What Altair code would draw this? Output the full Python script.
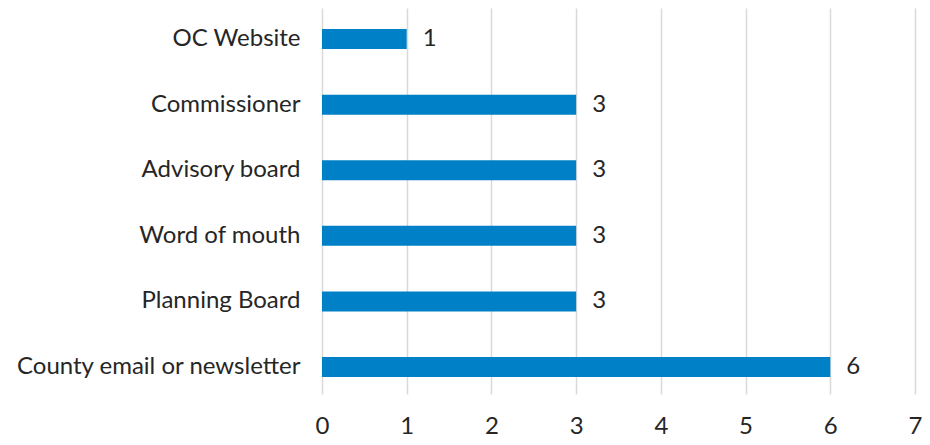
import altair as alt
import pandas as pd

categories = ["OC Website", "Commissioner", "Advisory board", "Word of mouth",
              "Planning Board", "County email or newsletter"]
values = [1, 3, 3, 3, 3, 6]

df = pd.DataFrame({"source": categories, "count": values})

FONT = "Lato"
TXT = "#262626"
FS = 24

base = alt.Chart(df).encode(
    y=alt.Y("source:N", sort=categories, title=None,
            scale=alt.Scale(paddingInner=0.695, paddingOuter=0.29, align=0.553),
            axis=alt.Axis(domain=False, ticks=False, labelPadding=22,
                          labelFontSize=FS, labelFont=FONT, labelColor=TXT,
                          grid=False, labelLimit=400)),
    x=alt.X("count:Q", title=None,
            scale=alt.Scale(domain=[0, 7], nice=False),
            axis=alt.Axis(values=list(range(0, 8)), domain=False, ticks=False,
                          labelPadding=20, labelFontSize=FS, labelFont=FONT,
                          labelColor=TXT, gridColor="#d9d9d9", gridWidth=1.5,
                          labelFlush=False, format="d")),
)

bars = base.mark_bar(color="#0080C6")
labels = base.mark_text(align="left", dx=16, fontSize=FS, font=FONT,
                        color=TXT).encode(text="count:Q")

chart = (bars + labels).properties(
    width=593, height=386,
    autosize=alt.AutoSizeParams(type="none"),
    padding={"left": 314, "top": 0, "right": 7, "bottom": 43},
).configure_view(stroke=None)

chart.save("out.html", embed_options={"renderer": "svg", "actions": False})
